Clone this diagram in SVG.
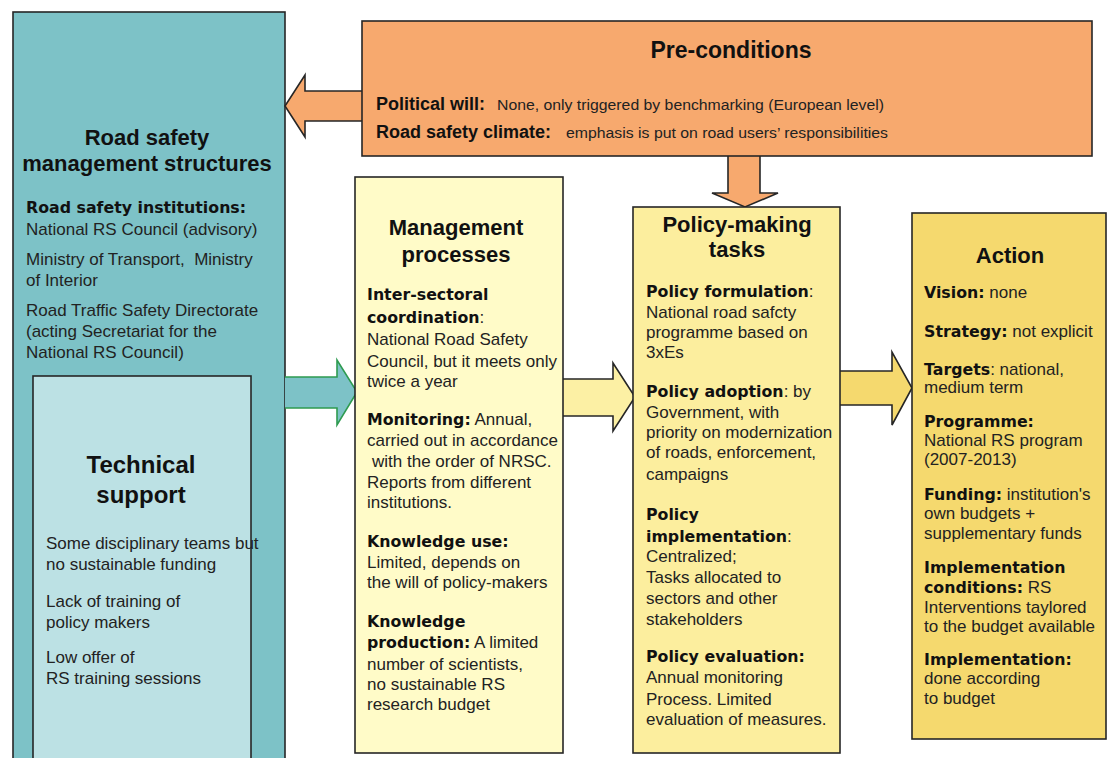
<svg xmlns="http://www.w3.org/2000/svg" width="1108" height="758" viewBox="0 0 1108 758">
<style>
.box{stroke:#262626;stroke-width:1.6}
.tt{font-family:"Liberation Sans",Arial,sans-serif;font-weight:bold;font-size:22px;fill:#111;text-anchor:middle}
.tx{font-family:"Liberation Sans",Arial,sans-serif;font-size:17px;fill:#222}
.b{font-family:"DejaVu Sans",Verdana,sans-serif;font-weight:bold;font-size:15.8px;fill:#111}
.r{font-family:"Liberation Sans",Arial,sans-serif;font-weight:normal;font-size:17px;fill:#222}
.pb{font-family:"Liberation Sans",Arial,sans-serif;font-weight:bold;font-size:18px;fill:#111}
.pr{font-family:"Liberation Sans",Arial,sans-serif;font-size:15.5px;fill:#222}
.arr{stroke:#262626;stroke-width:1.6;fill:none;stroke-linejoin:miter}
</style>
<rect width="1108" height="758" fill="#ffffff"/>

<g id="road-safety-management-structures">
<rect class="box" x="13" y="12" width="272" height="770" fill="#7DC2C7"/>
<text class="tt" x="147" y="145">Road safety</text>
<text class="tt" x="147" y="171">management structures</text>
<text class="b" x="26" y="213">Road safety institutions:</text>
<text class="tx" x="26" y="235">National RS Council (advisory)</text>
<text class="tx" x="26" y="265">Ministry of Transport,&#160; Ministry</text>
<text class="tx" x="26" y="286">of Interior</text>
<text class="tx" x="26" y="316">Road Traffic Safety Directorate</text>
<text class="tx" x="26" y="337">(acting Secretariat for the</text>
<text class="tx" x="26" y="358">National RS Council)</text>
</g>

<g id="technical-support">
<rect class="box" x="33" y="376" width="218" height="400" fill="#BCE1E4"/>
<text class="tt" x="141" y="473" style="font-size:24px">Technical</text>
<text class="tt" x="141" y="503" style="font-size:24px">support</text>
<text class="tx" x="46" y="549">Some disciplinary teams but</text>
<text class="tx" x="46" y="570">no sustainable funding</text>
<text class="tx" x="46" y="607">Lack of training of</text>
<text class="tx" x="46" y="628">policy makers</text>
<text class="tx" x="46" y="663">Low offer of</text>
<text class="tx" x="46" y="684">RS training sessions</text>
</g>

<g id="connectors">
<polygon points="366,91 305,91 305,75 285,106 305,137 305,121 366,121" fill="#F7A96E" stroke="#262626" stroke-width="1.6"/>
<polygon points="728,150 760,150 760,193 778,193 745,207 712,193 728,193" fill="#F7A96E" stroke="#262626" stroke-width="1.6"/>
<polygon points="285,377 337,377 337,360 357,392 337,425 337,408 285,408" fill="#7DC2C7"/>
<polyline points="285,377 337,377 337,360 357,392 337,425 337,408 285,408" fill="none" stroke="#2E9B50" stroke-width="1.6"/>
<polygon points="563,379 613,379 613,363 635,397 613,431 613,416 563,416" fill="#FCF0A4"/>
<polyline class="arr" points="563,379 613,379 613,363 635,397 613,431 613,416 563,416"/>
<polygon points="840,371 892,371 892,352 912,388 892,425 892,405 840,405" fill="#F5D96E"/>
<polyline class="arr" points="840,371 892,371 892,352 912,388 892,425 892,405 840,405"/>
</g>

<g id="pre-conditions">
<rect class="box" x="362" y="21" width="730" height="135" fill="#F7A96E"/>
<text class="tt" x="731" y="58" style="font-size:23px">Pre-conditions</text>
<text class="pb" x="376" y="110">Political will:</text>
<text class="pr" x="497" y="110" textLength="387" lengthAdjust="spacingAndGlyphs">None, only triggered by benchmarking (European level)</text>
<text class="pb" x="376" y="138">Road safety climate:</text>
<text class="pr" x="566" y="138" textLength="322" lengthAdjust="spacingAndGlyphs">emphasis is put on road users’ responsibilities</text>
</g>

<g id="management-processes">
<rect class="box" x="355" y="177" width="208" height="576" fill="#FFFBC8"/>
<text class="tt" x="456" y="235">Management</text>
<text class="tt" x="456" y="262">processes</text>
<text x="367" y="300"><tspan class="b">Inter-sectoral</tspan></text>
<text x="367" y="323"><tspan class="b">coordination</tspan><tspan class="r">:</tspan></text>
<text class="tx" x="367" y="345">National Road Safety</text>
<text class="tx" x="367" y="367">Council, but it meets only</text>
<text class="tx" x="367" y="387">twice a year</text>
<text x="367" y="425"><tspan class="b">Monitoring:</tspan><tspan class="r"> Annual,</tspan></text>
<text class="tx" x="367" y="446">carried out in accordance</text>
<text class="tx" x="372" y="467">with the order of NRSC.</text>
<text class="tx" x="367" y="488">Reports from different</text>
<text class="tx" x="367" y="508">institutions.</text>
<text x="367" y="547"><tspan class="b">Knowledge use:</tspan></text>
<text class="tx" x="367" y="568">Limited, depends on</text>
<text class="tx" x="367" y="588">the will of policy-makers</text>
<text x="367" y="627"><tspan class="b">Knowledge</tspan></text>
<text x="367" y="648"><tspan class="b">production:</tspan><tspan class="r"> A limited</tspan></text>
<text class="tx" x="367" y="670">number of scientists,</text>
<text class="tx" x="367" y="690">no sustainable RS</text>
<text class="tx" x="367" y="710">research budget</text>
</g>

<g id="policy-making-tasks">
<rect class="box" x="633" y="207" width="207" height="546" fill="#FCEE9E"/>
<text class="tt" x="737" y="232">Policy-making</text>
<text class="tt" x="737" y="257">tasks</text>
<text x="646" y="297"><tspan class="b">Policy formulation</tspan><tspan class="r">:</tspan></text>
<text class="tx" x="646" y="318">National road safcty</text>
<text class="tx" x="646" y="338">programme based on</text>
<text class="tx" x="646" y="358">3xEs</text>
<text x="646" y="397"><tspan class="b">Policy adoption</tspan><tspan class="r">: by</tspan></text>
<text class="tx" x="646" y="418">Government, with</text>
<text class="tx" x="646" y="438">priority on modernization</text>
<text class="tx" x="646" y="458">of roads, enforcement,</text>
<text class="tx" x="646" y="480">campaigns</text>
<text x="646" y="520"><tspan class="b">Policy</tspan></text>
<text x="646" y="542"><tspan class="b">implementation</tspan><tspan class="r">:</tspan></text>
<text class="tx" x="646" y="562">Centralized;</text>
<text class="tx" x="646" y="583">Tasks allocated to</text>
<text class="tx" x="646" y="604">sectors and other</text>
<text class="tx" x="646" y="625">stakeholders</text>
<text x="646" y="662"><tspan class="b">Policy evaluation:</tspan></text>
<text class="tx" x="646" y="683">Annual monitoring</text>
<text class="tx" x="646" y="705">Process. Limited</text>
<text class="tx" x="646" y="725">evaluation of measures.</text>
</g>

<g id="action">
<rect class="box" x="912" y="213" width="194" height="526" fill="#F5D96E"/>
<text class="tt" x="1010" y="263">Action</text>
<text x="924" y="298"><tspan class="b">Vision:</tspan><tspan class="r"> none</tspan></text>
<text x="924" y="337"><tspan class="b">Strategy:</tspan><tspan class="r"> not explicit</tspan></text>
<text x="924" y="375"><tspan class="b">Targets</tspan><tspan class="r">: national,</tspan></text>
<text class="tx" x="924" y="393">medium term</text>
<text x="924" y="427"><tspan class="b">Programme:</tspan></text>
<text class="tx" x="924" y="446">National RS program</text>
<text class="tx" x="924" y="465">(2007-2013)</text>
<text x="924" y="500"><tspan class="b">Funding:</tspan><tspan class="r"> institution's</tspan></text>
<text class="tx" x="924" y="519">own budgets +</text>
<text class="tx" x="924" y="539">supplementary funds</text>
<text x="924" y="573"><tspan class="b">Implementation</tspan></text>
<text x="924" y="593"><tspan class="b">conditions:</tspan><tspan class="r"> RS</tspan></text>
<text class="tx" x="924" y="613">Interventions taylored</text>
<text class="tx" x="924" y="632">to the budget available</text>
<text x="924" y="665"><tspan class="b">Implementation:</tspan></text>
<text class="tx" x="924" y="684">done according</text>
<text class="tx" x="924" y="704">to budget</text>
</g>
</svg>
